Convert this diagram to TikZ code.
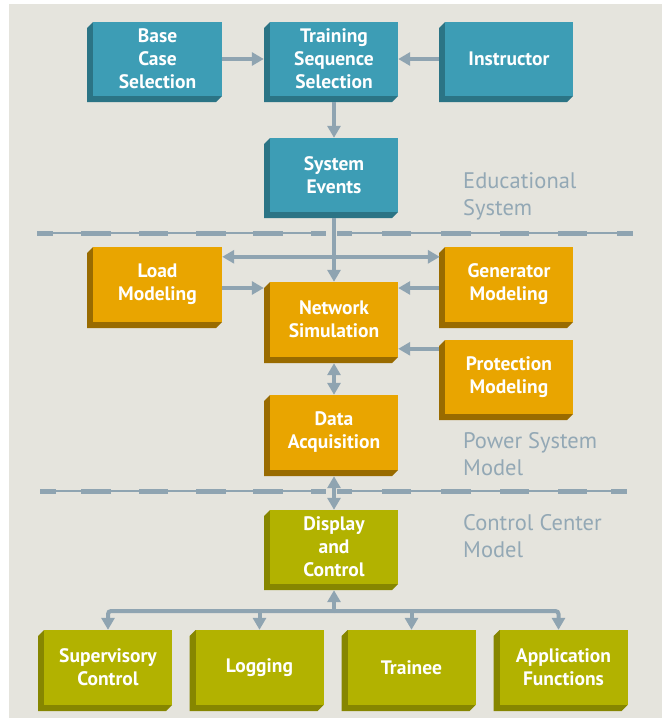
\documentclass[tikz,border=0pt]{standalone}
\usepackage{fontspec}
\setmainfont{PT Sans}
\usetikzlibrary{arrows.meta,calc}
\definecolor{bg}{HTML}{E5E4DD}
\definecolor{conn}{HTML}{8FA4B1}
\definecolor{lblc}{HTML}{93A8B5}
\definecolor{tealF}{HTML}{3D9DB5}
\definecolor{tealD}{HTML}{2B7485}
\definecolor{orF}{HTML}{E9A500}
\definecolor{orD}{HTML}{996B00}
\definecolor{olF}{HTML}{B2B200}
\definecolor{olD}{HTML}{868600}
\tikzset{
  blockface/.style={rectangle, inner sep=0pt, draw=none, text=white,
    font=\bfseries\fontsize{19.5}{23}\selectfont, align=center},
  conn/.style={draw=conn, line width=4pt, >={Triangle[length=12pt,width=13pt]}},
  lbl/.style={text=lblc, font=\fontsize{22.5}{27}\selectfont, inner sep=0pt, anchor=base west},
  thinrule/.style={draw=conn, line width=2.4pt},
  thickdash/.style={draw=conn, line width=5pt},
}
% name, cx, cy, w, h, face, dark, text
\newcommand\blockbox[8]{%
  \fill[#7] ({#2-#4/2},{#3-#5/2}) -- ({#2-#4/2-6},{#3-#5/2+6}) -- ({#2-#4/2-6},{#3+#5/2+6})
     -- ({#2+#4/2-6},{#3+#5/2+6}) -- ({#2+#4/2},{#3+#5/2}) -- cycle;
  \node[blockface, fill=#6, minimum width=#4pt, minimum height=#5pt] (#1) at (#2,#3) {#8};
}
\begin{document}
\begin{tikzpicture}[x=1pt,y=-1pt]
\useasboundingbox (0,0) rectangle (662,723);
\fill[bg] (9,4) rectangle (662,718);

% dashed separators
\foreach \yy/\xa/\xb in {233/37/633, 491/40/627}{
  \draw[thinrule] (\xa,\yy) -- (326,\yy);
  \draw[thinrule] (337,\yy) -- (\xb,\yy);
  \foreach \u/\v in {81/111,139/168,196/226,253/283,311/326,337/352,382/411,441/471,500/529,558/587}{
    \draw[thickdash] (\u,\yy) -- (\v,\yy);
  }
  \draw[thickdash] (\xa,\yy) -- ({\xa+16},\yy);
  \draw[thickdash] ({\xb-16},\yy) -- (\xb,\yy);
}

% boxes
\blockbox{base}{157.5}{59}{129}{74}{tealF}{tealD}{Base\\Case\\Selection}
\blockbox{training}{334}{59}{128}{74}{tealF}{tealD}{Training\\Sequence\\Selection}
\blockbox{instructor}{509}{59}{128}{74}{tealF}{tealD}{Instructor}
\blockbox{events}{334}{175}{128}{74}{tealF}{tealD}{System\\Events}
\blockbox{load}{157.5}{284.5}{129}{75}{orF}{orD}{Load\\Modeling}
\blockbox{network}{334}{319.5}{128}{75}{orF}{orD}{Network\\Simulation}
\blockbox{generator}{509}{284.5}{128}{75}{orF}{orD}{Generator\\Modeling}
\blockbox{protection}{509}{377}{128}{74}{orF}{orD}{Protection\\Modeling}
\blockbox{data}{334}{432.5}{128}{75}{orF}{orD}{Data\\Acquisition}
\blockbox{display}{334}{547}{128}{74}{olF}{olD}{Display\\and\\Control}
\blockbox{sup}{108}{667.5}{128}{75}{olF}{olD}{Supervisory\\Control}
\blockbox{logg}{259.5}{667.5}{128}{75}{olF}{olD}{Logging}
\blockbox{trainee}{411.5}{667.5}{128}{75}{olF}{olD}{Trainee}
\blockbox{app}{563.5}{667.5}{128}{75}{olF}{olD}{Application\\Functions}

% labels
\node[lbl] (edu1) at (463,188) {Educational};
\node[lbl] (edu2) at (463,215) {System};
\node[lbl] (pow1) at (463,448) {Power System};
\node[lbl] (pow2) at (463,475) {Model};
\node[lbl] (cc1) at (463,530) {Control Center};
\node[lbl] (cc2) at (463,557) {Model};

% connectors
\draw[conn,->] (base.east) -- ($(training.west)+(-6,0)$);
\draw[conn,->] ($(instructor.west)+(-6,0)$) -- (training.east);
\draw[conn,->] ($(training.south)+(0,6)$) -- (events.north);
\draw[conn,->] ($(events.south)+(0,6)$) -- (network.north);
\draw[conn,<->] ($(load.north east)+(0,10)$) -- ($(generator.north west)+(-5,10)$);
\draw[conn,->] ($(load.east)+(0,3.5)$) -- ($(network.west |- load.east)+(-6,3.5)$);
\draw[conn,->] ($(generator.west)+(-6,3.5)$) -- ($(network.east |- generator.west)+(0,3.5)$);
\draw[conn,->] ($(protection.north west)+(-6,9)$) -- ($(network.east |- protection.north west)+(0,9)$);
\draw[conn,<->] ($(network.south)+(0,6)$) -- (data.north);
\draw[conn,<->] ($(data.south)+(0,6)$) -- (display.north);

\coordinate (bus) at (334,611);
\coordinate (appdrop) at ($(app.north)+(-5,0)$);
\draw[conn,->] (bus) -- ($(display.south)+(0,6)$);
\draw[conn,->,rounded corners=3pt] (bus) -| (sup.north);
\draw[conn,->,rounded corners=3pt] (bus) -| (appdrop);
\draw[conn,->] (logg.north |- bus) -- (logg.north);
\draw[conn,->] (trainee.north |- bus) -- (trainee.north);
\end{tikzpicture}
\end{document}
